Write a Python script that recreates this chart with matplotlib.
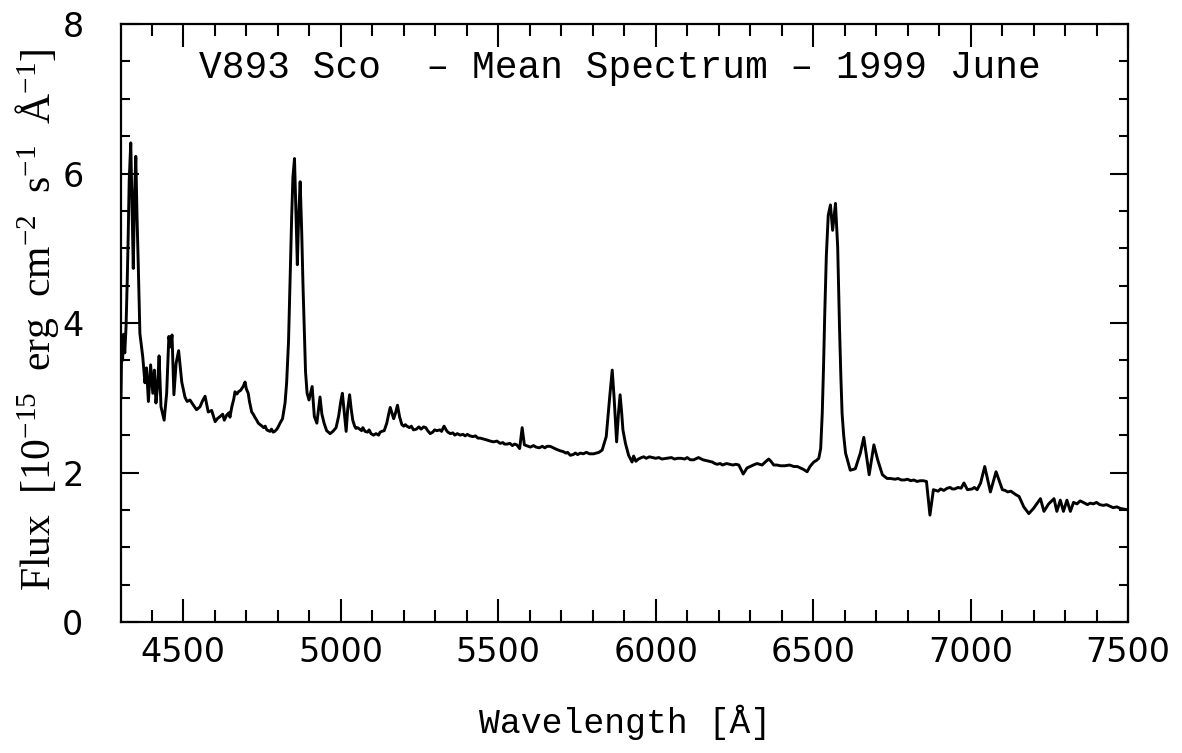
import matplotlib
matplotlib.use("Agg")
import matplotlib.pyplot as plt
from matplotlib.ticker import MultipleLocator

# Wavelength (Angstrom) / flux (1e-15 erg cm^-2 s^-1 A^-1), by segment
wl_blue = [4302, 4304, 4307, 4310, 4314, 4318, 4322, 4325, 4328, 4333, 4337, 4341, 4345, 4349,
           4353, 4357, 4362, 4371, 4378, 4383, 4389, 4396, 4403, 4408, 4413, 4418, 4423, 4429,
           4439, 4447, 4454, 4459, 4464, 4470, 4477, 4485, 4495, 4505, 4512, 4521, 4532, 4542,
           4553, 4560, 4569, 4579, 4590, 4601, 4608, 4617, 4625, 4630, 4638, 4645, 4648, 4654,
           4660, 4664, 4670, 4675, 4682, 4690, 4696, 4700, 4706, 4710, 4717, 4722, 4727, 4733,
           4738, 4744, 4750, 4755, 4760, 4765, 4770, 4775, 4780, 4785, 4790, 4795, 4800, 4807,
           4815]
fx_blue = [3.00, 3.65, 3.50, 3.85, 3.60, 3.95, 4.60, 5.20, 5.90, 6.41, 5.60, 4.73, 5.70, 6.23,
           5.40, 4.75, 3.86, 3.55, 3.20, 3.40, 2.95, 3.44, 3.06, 3.37, 2.93, 3.15, 3.56, 2.88,
           2.70, 3.06, 3.82, 3.68, 3.84, 3.04, 3.46, 3.63, 3.21, 3.01, 2.95, 2.97, 2.90, 2.84,
           2.88, 2.95, 3.02, 2.81, 2.83, 2.68, 2.72, 2.75, 2.78, 2.70, 2.77, 2.80, 2.74, 2.88,
           2.98, 3.08, 3.05, 3.08, 3.10, 3.15, 3.21, 3.12, 3.06, 2.95, 2.81, 2.78, 2.74, 2.70,
           2.66, 2.64, 2.62, 2.60, 2.62, 2.57, 2.56, 2.55, 2.58, 2.54, 2.55, 2.57, 2.60, 2.66,
           2.72]

wl_hbeta = [4823, 4828, 4834, 4839, 4844, 4848, 4853, 4858, 4862, 4866, 4871, 4876, 4880, 4884,
            4888, 4893, 4899, 4909, 4916, 4924, 4934, 4940, 4947, 4955, 4966, 4975, 4985, 4993,
            5000, 5005, 5011, 5017, 5022, 5028, 5033, 5038]
fx_hbeta = [2.93, 3.20, 3.75, 4.60, 5.42, 5.95, 6.20, 5.40, 4.78, 5.40, 5.89, 5.20, 4.50, 3.90,
            3.35, 3.06, 2.97, 3.15, 2.75, 2.66, 3.01, 2.78, 2.66, 2.56, 2.52, 2.55, 2.60, 2.75,
            2.95, 3.06, 2.80, 2.55, 2.85, 3.04, 2.85, 2.70]

wl_mid = [5044, 5048, 5053, 5060, 5066, 5070, 5077, 5085, 5090, 5096, 5104, 5112, 5120, 5125,
          5130, 5138, 5146, 5152, 5157, 5162, 5168, 5174, 5180, 5187, 5194, 5200, 5205, 5210,
          5218, 5224, 5231, 5240, 5248, 5255, 5263, 5270, 5276, 5284, 5292, 5298, 5305, 5315,
          5320, 5328, 5336, 5340, 5348, 5356, 5362, 5370, 5379, 5388, 5395, 5402, 5410, 5420,
          5428, 5435, 5443, 5452, 5460, 5467, 5475, 5485, 5496, 5506, 5515, 5520, 5528, 5537,
          5545, 5552, 5559, 5568, 5576, 5583, 5602, 5612, 5620, 5630, 5640, 5648, 5655, 5665,
          5675, 5685, 5697, 5706, 5715, 5720, 5729, 5738, 5745, 5752, 5761, 5770, 5780, 5790,
          5803, 5812, 5820]
fx_mid = [2.62, 2.59, 2.60, 2.58, 2.56, 2.60, 2.55, 2.54, 2.57, 2.52, 2.50, 2.52, 2.50, 2.54,
          2.55, 2.56, 2.66, 2.78, 2.87, 2.80, 2.72, 2.80, 2.90, 2.74, 2.64, 2.62, 2.64, 2.62,
          2.60, 2.62, 2.57, 2.58, 2.61, 2.58, 2.61, 2.60, 2.56, 2.52, 2.54, 2.57, 2.56, 2.57,
          2.55, 2.62, 2.56, 2.54, 2.52, 2.53, 2.50, 2.52, 2.50, 2.51, 2.49, 2.51, 2.49, 2.48,
          2.49, 2.46, 2.46, 2.45, 2.44, 2.43, 2.42, 2.41, 2.42, 2.39, 2.40, 2.38, 2.38, 2.39,
          2.36, 2.38, 2.37, 2.32, 2.60, 2.37, 2.34, 2.36, 2.34, 2.33, 2.35, 2.33, 2.35, 2.35,
          2.33, 2.31, 2.29, 2.28, 2.26, 2.27, 2.23, 2.24, 2.26, 2.24, 2.26, 2.25, 2.27, 2.25,
          2.25, 2.26, 2.27]

wl_hei = [5830, 5843, 5854, 5862, 5868, 5876, 5882, 5887, 5892, 5896, 5904, 5914, 5925, 5930,
          5937]
fx_hei = [2.30, 2.48, 3.01, 3.37, 3.00, 2.41, 2.80, 3.04, 2.80, 2.57, 2.39, 2.23, 2.14, 2.22,
          2.15]

wl_red = [5945, 5955, 5962, 5970, 5980, 5990, 6000, 6010, 6020, 6036, 6050, 6060, 6070, 6080,
          6092, 6100, 6110, 6121, 6136, 6145, 6150, 6160, 6170, 6180, 6188, 6195, 6205, 6212,
          6225, 6235, 6245, 6255, 6264, 6278, 6290, 6300, 6310, 6322, 6338, 6348, 6359, 6366,
          6375, 6385, 6396, 6410, 6425, 6439, 6450, 6460, 6470, 6481, 6490, 6502, 6510, 6518]
fx_red = [2.18, 2.20, 2.21, 2.19, 2.21, 2.20, 2.19, 2.20, 2.18, 2.19, 2.20, 2.18, 2.19, 2.19,
          2.18, 2.20, 2.17, 2.17, 2.20, 2.18, 2.17, 2.16, 2.15, 2.14, 2.12, 2.11, 2.12, 2.10,
          2.12, 2.11, 2.10, 2.11, 2.10, 1.98, 2.06, 2.08, 2.10, 2.12, 2.10, 2.14, 2.18, 2.15,
          2.10, 2.10, 2.09, 2.09, 2.10, 2.08, 2.08, 2.06, 2.04, 2.01, 2.08, 2.14, 2.16, 2.19]

wl_halpha = [6524, 6529, 6533, 6537, 6542, 6548, 6555, 6562, 6571, 6578, 6584, 6588, 6592, 6597,
             6603, 6618, 6634, 6650, 6661, 6670, 6678, 6693, 6705, 6720]
fx_halpha = [2.32, 2.79, 3.40, 4.13, 4.90, 5.44, 5.58, 5.24, 5.60, 5.02, 3.91, 3.30, 2.79, 2.50,
             2.26, 2.03, 2.05, 2.26, 2.47, 2.20, 1.97, 2.37, 2.17, 1.97]

wl_far = [6735, 6746, 6760, 6770, 6780, 6790, 6800, 6810, 6820, 6830, 6840, 6850, 6860, 6871,
          6882, 6897, 6905, 6915, 6926, 6935, 6942, 6950, 6960, 6970, 6979, 6990, 7005, 7012,
          7021, 7032, 7045, 7063, 7081, 7101, 7110, 7118, 7128, 7138, 7145, 7154, 7169, 7185,
          7200, 7222, 7233, 7248, 7265, 7274, 7285, 7295, 7306, 7317, 7327, 7338, 7348, 7358,
          7371, 7380, 7390, 7400, 7410, 7422, 7432, 7442, 7453, 7465, 7475, 7487, 7500]
fx_far = [1.92, 1.92, 1.91, 1.92, 1.90, 1.90, 1.91, 1.89, 1.90, 1.88, 1.89, 1.89, 1.88, 1.43,
          1.77, 1.75, 1.78, 1.76, 1.79, 1.80, 1.78, 1.78, 1.80, 1.79, 1.86, 1.77, 1.78, 1.80,
          1.77, 1.86, 2.08, 1.74, 2.01, 1.77, 1.76, 1.74, 1.75, 1.72, 1.70, 1.68, 1.54, 1.45,
          1.52, 1.65, 1.48, 1.58, 1.65, 1.48, 1.63, 1.48, 1.63, 1.48, 1.60, 1.58, 1.62, 1.60,
          1.57, 1.59, 1.58, 1.60, 1.57, 1.56, 1.57, 1.55, 1.53, 1.54, 1.52, 1.51, 1.50]

segments_wl = [wl_blue, wl_hbeta, wl_mid, wl_hei, wl_red, wl_halpha, wl_far]
segments_fx = [fx_blue, fx_hbeta, fx_mid, fx_hei, fx_red, fx_halpha, fx_far]
wavelength, flux = [], []
for w, f in zip(segments_wl, segments_fx):
    assert len(w) == len(f)
    wavelength += w
    flux += f

x_ticks = [4500, 5000, 5500, 6000, 6500, 7000, 7500]
y_ticks = [0, 2, 4, 6, 8]

title_text = "V893 Sco  \u2013 Mean Spectrum \u2013 1999 June"
x_label = "Wavelength [\u00c5]"
y_label = r"Flux  [10$^{-15}$  erg  cm$^{-2}$  s$^{-1}$  $\mathrm{\AA}^{-1}$]"

plt.rcParams['mathtext.fontset'] = 'custom'
plt.rcParams['mathtext.rm'] = 'Liberation Serif'
plt.rcParams['mathtext.it'] = 'Liberation Serif'

fig = plt.figure(figsize=(11.82, 7.53), dpi=100)
ax = fig.add_axes([121/1182, 1 - 622/753, (1128-121)/1182, (622-24)/753])

ax.plot(wavelength, flux, color='black', lw=2.1, solid_joinstyle='round')

ax.set_xlim(4302, 7500)
ax.set_ylim(0, 8)
ax.set_xticks(x_ticks)
ax.set_yticks(y_ticks)
ax.xaxis.set_minor_locator(MultipleLocator(100))
ax.yaxis.set_minor_locator(MultipleLocator(0.5))

for s in ax.spines.values():
    s.set_linewidth(1.6)

ax.tick_params(axis='x', which='major', direction='in', length=16.5, width=1.5,
               top=True, bottom=True, pad=10, labelsize=24)
ax.tick_params(axis='x', which='minor', direction='in', length=8.4, width=1.5,
               top=True, bottom=True)
ax.tick_params(axis='y', which='major', direction='in', length=12.7, width=1.5,
               left=True, right=True, pad=27, labelsize=24)
ax.tick_params(axis='y', which='minor', direction='in', length=6.3, width=1.5,
               left=True, right=True)
for lab in ax.get_xticklabels() + ax.get_yticklabels():
    lab.set_family('DejaVu Sans')

ax.set_xlabel(x_label, family='Liberation Mono', fontsize=25, va='center')
ax.xaxis.set_label_coords(0.5005, -0.167)
ax.set_ylabel(y_label, family='Liberation Serif', fontsize=30, va='center')
ax.yaxis.set_label_coords(-0.083, 0.505)

ax.text(0.4955, 0.926, title_text, transform=ax.transAxes, ha='center', va='center',
        family='Liberation Mono', fontsize=27.3)

fig.savefig('out.png', dpi=100)
